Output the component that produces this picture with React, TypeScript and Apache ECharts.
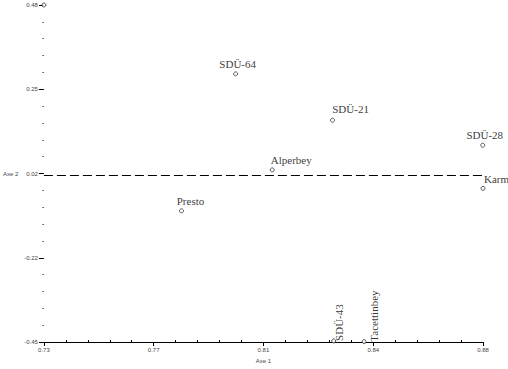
import React, { useEffect, useRef } from "react";
import * as echarts from "echarts";

// Cultivar / line names and their coordinates on the two dimensions
const names = ["Tatlıcak", "SDÜ-64", "SDÜ-21", "SDÜ-28", "Karma", "Alperbey", "Presto", "SDÜ-43", "Tacettinbey"];
const dim1 = [0.730, 0.7955, 0.8286, 0.8799, 0.8800, 0.8080, 0.7770, 0.8290, 0.8394];
const dim2 = [0.480, 0.290, 0.162, 0.093, -0.026, 0.025, -0.088, -0.447, -0.449];

// Axis ticks
const xTickValues = [0.73, 0.7675, 0.805, 0.8425, 0.88];
const xTickLabels = ["0.73", "0.77", "0.81", "0.84", "0.88"];
const yTickValues = [-0.45, -0.2175, 0.015, 0.2475, 0.48];
const yTickLabels = ["-0.45", "-0.22", "0.02", "0.25", "0.48"];
const meanLine = 0.015;

const xName = "Axe 1";
const yName = "Axe 2";

// label placement (style only)
const labelStyle: Record<string, any> = {
  "Tatlıcak": { position: "top", offset: [21, 0] },
  "SDÜ-64": { position: "top", offset: [2, 0] },
  "SDÜ-21": { position: "top", offset: [18, -1] },
  "SDÜ-28": { position: "top", offset: [2, 0] },
  "Karma": { position: "top", offset: [16, 1] },
  "Alperbey": { position: "top", offset: [19, 0] },
  "Presto": { position: "top", offset: [9, 0] },
  "SDÜ-43": { position: "right", distance: 3, rotate: 90, align: "left", verticalAlign: "middle" },
  "Tacettinbey": { position: "right", distance: 7, rotate: 90, align: "left", verticalAlign: "middle" },
};

function minorValues(major: number[], parts: number) {
  const out: number[] = [];
  for (let i = 0; i < major.length - 1; i++) {
    const step = (major[i + 1] - major[i]) / parts;
    for (let j = 1; j < parts; j++) out.push(major[i] + step * j);
  }
  return out;
}

function lookup(values: number[], labels: string[]) {
  return (v: number) => {
    const i = values.findIndex((t) => Math.abs(t - v) < 1e-9);
    return i >= 0 ? labels[i] : "";
  };
}

export default function App() {
  const ref = useRef<HTMLDivElement>(null);
  useEffect(() => {
    if (!ref.current) return;
    const chart = echarts.init(ref.current, undefined, { renderer: "svg" });
    const axisFont = { fontSize: 6, color: "#444", fontFamily: "Liberation Sans" };
    const xMin = xTickValues[0], xMax = xTickValues[xTickValues.length - 1];
    const yMin = yTickValues[0], yMax = yTickValues[yTickValues.length - 1];
    chart.setOption({
      animation: false,
      grid: { left: 39, right: 25, top: 5, bottom: 22, containLabel: false },
      xAxis: [
        {
          type: "value",
          min: xMin,
          max: xMax,
          position: "bottom",
          name: xName,
          nameLocation: "middle",
          nameGap: 16,
          nameTextStyle: { ...axisFont },
          axisLine: { show: true, onZero: false, lineStyle: { color: "#000", width: 1 } },
          axisTick: { show: true, customValues: xTickValues, length: 4, lineStyle: { color: "#000" } },
          axisLabel: { show: true, customValues: xTickValues, formatter: lookup(xTickValues, xTickLabels), margin: 5, ...axisFont },
          splitLine: { show: false },
        },
        {
          type: "value",
          min: xMin,
          max: xMax,
          position: "bottom",
          offset: 0,
          axisLine: { show: false, onZero: false },
          axisTick: { show: true, customValues: minorValues(xTickValues, 5), length: 2, inside: true, lineStyle: { color: "#000" } },
          axisLabel: { show: false },
          splitLine: { show: false },
        },
      ],
      yAxis: [
        {
          type: "value",
          min: yMin,
          max: yMax,
          position: "left",
          name: yName,
          nameLocation: "middle",
          nameGap: 24,
          nameRotate: 0,
          nameTextStyle: { ...axisFont },
          axisLine: { show: false, onZero: false },
          axisTick: { show: true, customValues: yTickValues, length: 5, lineStyle: { color: "#000" } },
          axisLabel: { show: true, customValues: yTickValues, formatter: lookup(yTickValues, yTickLabels), margin: 6, ...axisFont },
          splitLine: { show: false },
        },
        {
          type: "value",
          min: yMin,
          max: yMax,
          position: "left",
          offset: 0,
          axisLine: { show: false, onZero: false },
          axisTick: { show: true, customValues: minorValues(yTickValues, 5), length: 1.5, lineStyle: { color: "#555" } },
          axisLabel: { show: false },
          splitLine: { show: false },
        },
      ],
      series: [
        {
          type: "scatter",
          xAxisIndex: 0,
          yAxisIndex: 0,
          clip: false,
          symbol: "circle",
          symbolSize: 4,
          itemStyle: { color: "#fff", borderColor: "#000", borderWidth: 0.8 },
          label: {
            show: true,
            formatter: (p: any) => p.name,
            color: "#000",
            fontSize: 11,
            fontFamily: "Liberation Serif",
            distance: 2,
          },
          data: names.map((n, i) => ({
            name: n,
            value: [dim1[i], dim2[i]],
            label: labelStyle[n],
          })),
          markLine: {
            silent: true,
            symbol: "none",
            label: { show: false },
            lineStyle: { color: "#000", type: [9, 4], width: 1 },
            data: [{ yAxis: meanLine }],
          },
        },
      ],
    });
    return () => chart.dispose();
  }, []);
  return (
    <div
      ref={ref}
      style={{ position: "fixed", left: 0, top: 0, width: 508, height: 369, background: "#fff" }}
    />
  );
}
